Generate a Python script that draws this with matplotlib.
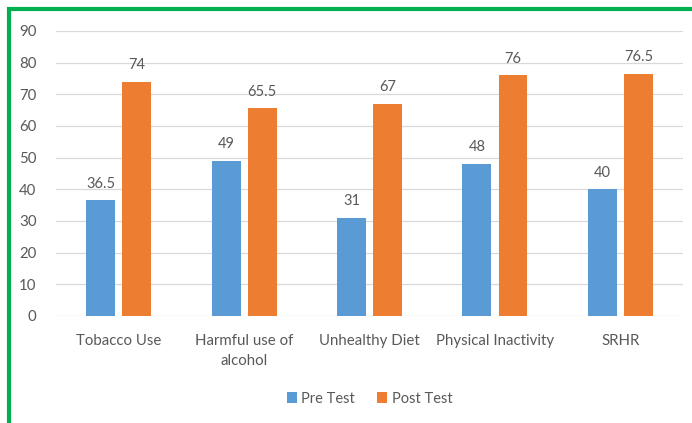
import matplotlib.pyplot as plt
import numpy as np
from matplotlib.patches import Rectangle

categorias = ['Tobacco Use', 'Harmful use of\nalcohol', 'Unhealthy Diet', 'Physical Inactivity', 'SRHR']
pre_test = [36.5, 49, 31, 48, 40]
post_test = [74, 65.5, 67, 76, 76.5]

azul = '#5B9BD5'
naranja = '#ED7D31'
gris = '#595959'

plt.rcParams['font.family'] = ['Lato', 'DejaVu Sans']

fig = plt.figure(figsize=(6.92, 4.23), dpi=100)
ax = fig.add_axes([0.081, 0.253, 0.906, 0.674])

x = np.arange(len(categorias))
ancho = 0.23
b1 = ax.bar(x - 0.144, pre_test, ancho, color=azul, label='Pre Test', zorder=3)
b2 = ax.bar(x + 0.144, post_test, ancho, color=naranja, label='Post Test', zorder=3)

### etiquetas de valores ###
for barras in (b1, b2):
    for b in barras:
        ax.annotate('%g' % b.get_height(), (b.get_x() + b.get_width()/2, b.get_height()),
                    xytext=(0, 7), textcoords='offset points', ha='center', va='bottom',
                    fontsize=10.5, color=gris)

ax.set_ylim(0, 90)
ax.set_yticks(range(0, 91, 10))
ax.set_xlim(-0.5, len(categorias) - 0.5)
ax.set_xticks(x)
ax.set_xticklabels(categorias, linespacing=1.5)
ax.grid(axis='y', color='#D9D9D9', lw=0.9, zorder=0)
for s in ax.spines.values():
    s.set_visible(False)
ax.tick_params(length=0, labelsize=10.8, labelcolor=gris)
ax.tick_params(axis='y', pad=14)
ax.tick_params(axis='x', pad=13)

ax.legend(loc='center', bbox_to_anchor=(0.5, -0.29), ncol=2, frameon=False,
          fontsize=10.5, labelcolor=gris, handlelength=0.7, handleheight=0.7,
          handletextpad=0.3, columnspacing=1.5)

### borde verde ###
fig.patches.append(Rectangle((9/692, -0.2), 1.2, 1.2 - 9/423, transform=fig.transFigure,
                             fill=False, edgecolor='#00B050', lw=3))

fig.savefig('out.png', dpi=100)
